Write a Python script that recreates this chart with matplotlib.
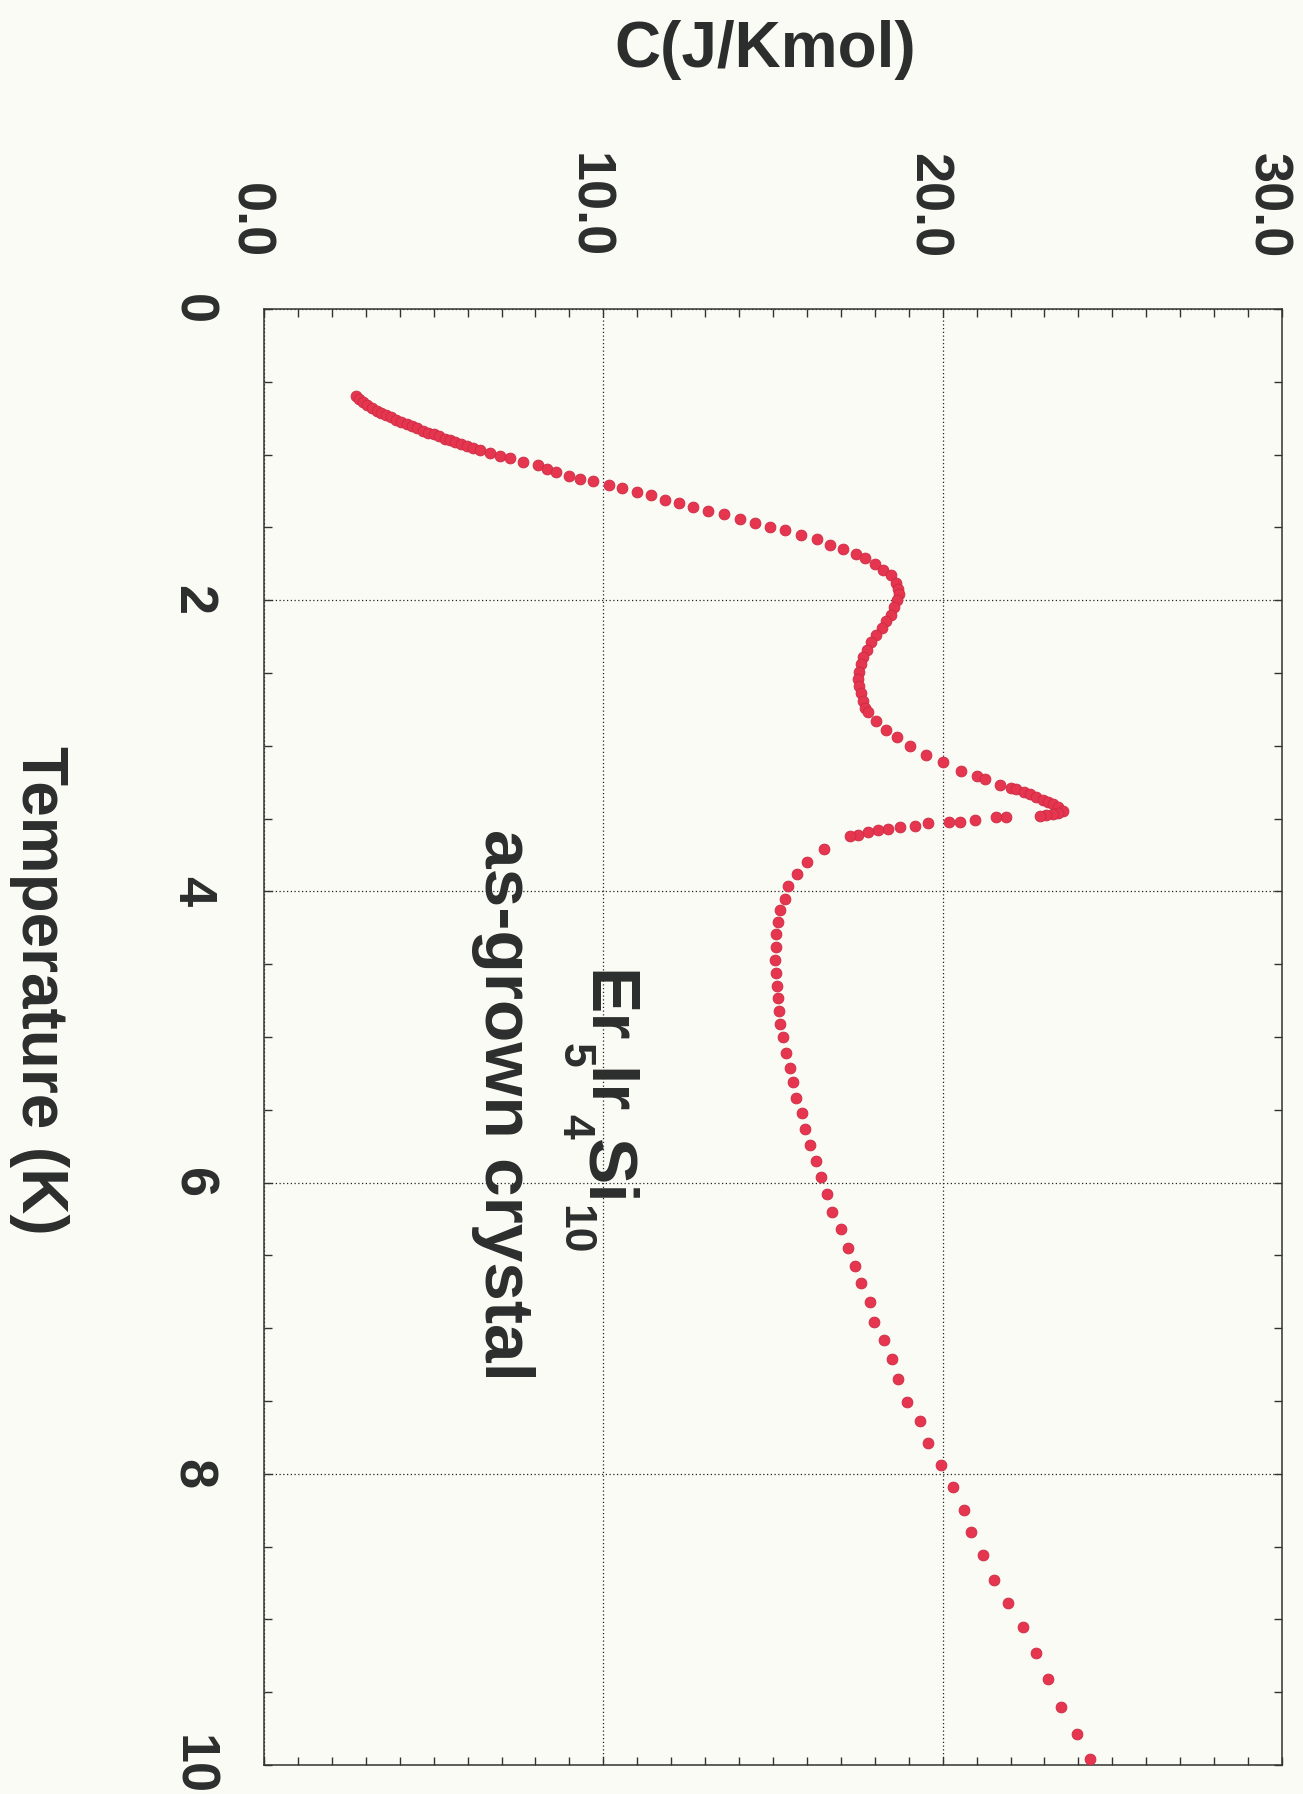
import matplotlib
matplotlib.use("Agg")
import matplotlib.pyplot as plt
import matplotlib.transforms as mtransforms
from matplotlib.ticker import MultipleLocator

plt.rcParams["font.family"] = ["Liberation Sans", "DejaVu Sans"]

# Er5Ir4Si10 as-grown crystal: specific heat vs temperature
temperature = [
    0.60, 0.62, 0.64, 0.66, 0.68, 0.70, 0.715, 0.73, 0.745, 0.76,
    0.775, 0.79, 0.805, 0.82, 0.835, 0.85, 0.86, 0.875, 0.89, 0.90,
    0.915, 0.93, 0.94, 0.955, 0.97, 0.99, 1.01, 1.02, 1.05, 1.07,
    1.10, 1.12, 1.15, 1.17, 1.18, 1.21, 1.23, 1.26, 1.28, 1.31,
    1.33, 1.36, 1.39, 1.41, 1.44, 1.47, 1.50, 1.52, 1.55, 1.58,
    1.62, 1.65, 1.68, 1.71, 1.75, 1.79, 1.83, 1.88, 1.92, 1.96,
    2.00, 2.05, 2.10, 2.14, 2.19, 2.24, 2.29, 2.34, 2.39, 2.44,
    2.49, 2.54, 2.59, 2.64, 2.69, 2.74, 2.77, 2.83, 2.89, 2.94,
    3.00, 3.06, 3.11, 3.17, 3.21, 3.23, 3.27, 3.29, 3.30, 3.32,
    3.33, 3.35, 3.37, 3.385, 3.40, 3.42, 3.45, 3.46, 3.47, 3.475,
    3.48, 3.49, 3.49, 3.51, 3.52, 3.52, 3.53, 3.55, 3.56, 3.57,
    3.58, 3.59, 3.61, 3.62, 3.71, 3.80, 3.88, 3.96, 4.05, 4.13,
    4.21, 4.29, 4.38, 4.47, 4.56, 4.65, 4.73, 4.82, 4.91, 5.00,
    5.11, 5.21, 5.31, 5.42, 5.52, 5.63, 5.74, 5.85, 5.96, 6.08,
    6.20, 6.32, 6.45, 6.57, 6.69, 6.82, 6.96, 7.08, 7.21, 7.35,
    7.51, 7.64, 7.79, 7.94, 8.09, 8.25, 8.40, 8.56, 8.73, 8.89,
    9.05, 9.23, 9.41, 9.60, 9.79, 9.96,
]
heat_capacity = [
    2.70, 2.80, 2.92, 3.05, 3.18, 3.32, 3.46, 3.60, 3.75, 3.90,
    4.05, 4.20, 4.36, 4.52, 4.68, 4.84, 5.00, 5.16, 5.32, 5.48,
    5.64, 5.80, 5.97, 6.15, 6.36, 6.66, 6.95, 7.25, 7.64, 8.08,
    8.33, 8.60, 8.99, 9.31, 9.70, 10.17, 10.54, 11.00, 11.39, 11.81,
    12.23, 12.65, 13.09, 13.55, 14.04, 14.46, 14.90, 15.36, 15.82, 16.30,
    16.69, 17.06, 17.44, 17.70, 18.00, 18.24, 18.49, 18.63, 18.68, 18.70,
    18.66, 18.58, 18.48, 18.34, 18.20, 18.05, 17.90, 17.78, 17.66, 17.58,
    17.52, 17.50, 17.53, 17.58, 17.64, 17.72, 17.80, 18.05, 18.34, 18.64,
    19.03, 19.52, 20.01, 20.55, 21.00, 21.24, 21.68, 22.00, 22.17, 22.40,
    22.56, 22.75, 22.95, 23.10, 23.25, 23.40, 23.54, 23.40, 23.25, 23.05,
    22.86, 21.88, 21.58, 20.94, 20.50, 20.20, 19.57, 19.17, 18.73, 18.39,
    18.09, 17.80, 17.51, 17.26, 16.50, 16.00, 15.71, 15.45, 15.35, 15.22,
    15.15, 15.10, 15.08, 15.07, 15.09, 15.11, 15.14, 15.17, 15.22, 15.30,
    15.39, 15.49, 15.59, 15.69, 15.86, 15.93, 16.10, 16.28, 16.42, 16.59,
    16.75, 16.99, 17.21, 17.41, 17.60, 17.85, 17.97, 18.26, 18.52, 18.68,
    18.95, 19.32, 19.56, 19.96, 20.30, 20.62, 20.84, 21.18, 21.52, 21.94,
    22.38, 22.75, 23.11, 23.50, 23.97, 24.34,
]

cap_ticks = [0, 10, 20, 30]
cap_labels = ["0.0", "10.0", "20.0", "30.0"]
temp_ticks = [0, 2, 4, 6, 8, 10]
temp_labels = ["0", "2", "4", "6", "8", "10"]

# formula pieces: (text, is_subscript)
formula = [("Er", False), ("5", True), ("Ir", False), ("4", True),
           ("Si", False), ("10", True)]

BG = "#fbfbf5"
INK = "#2b2e2c"
DOT = "#e6354e"

fig = plt.figure(figsize=(13.03, 17.94), dpi=100, facecolor=BG)
ax = fig.add_axes([264 / 1303, 1 - 1765 / 1794, 1018 / 1303, 1456 / 1794])
ax.set_facecolor(BG)

ax.plot(heat_capacity, temperature, "o", ms=7.8, mfc=DOT, mec="#cc2b44",
        mew=0.6, zorder=3)

ax.set_xlim(0, 30)
ax.set_ylim(10, 0)
ax.set_xticks(cap_ticks)
ax.set_yticks(temp_ticks)
ax.xaxis.set_minor_locator(MultipleLocator(1))
ax.yaxis.set_minor_locator(MultipleLocator(0.5))
ax.tick_params(which="both", direction="in", length=6, width=1.0,
               color="#333333", top=True, bottom=True, left=True, right=True,
               labelbottom=False, labelleft=False)
ax.grid(True, which="major", color="#222222", linestyle=(0, (1, 2)), lw=0.9)
for s in ax.spines.values():
    s.set_color("#333333")
    s.set_linewidth(1.1)

# tick labels are drawn rotated, reading downwards
px = 1 / 100
tr_top = ax.get_xaxis_transform() + mtransforms.ScaledTranslation(
    -29 * px, 51 * px, fig.dpi_scale_trans)
for v, lab in zip(cap_ticks, cap_labels):
    ax.text(v, 1, lab, transform=tr_top, rotation=-90, rotation_mode="anchor",
            ha="right", va="baseline", fontsize=39, fontweight="bold",
            color=INK, clip_on=False)

tr_left = ax.get_yaxis_transform() + mtransforms.ScaledTranslation(
    -86 * px, 0, fig.dpi_scale_trans)
for v, lab in zip(temp_ticks, temp_labels):
    ax.text(0, v, lab, transform=tr_left, rotation=-90, rotation_mode="anchor",
            ha="center", va="baseline", fontsize=39, fontweight="bold",
            color=INK, clip_on=False)

fig.text(765 / 1303, 1 - 67 / 1794, "C(J/Kmol)", ha="center", va="baseline",
         fontsize=46, fontweight="bold", color=INK)
fig.text(22 / 1303, 1 - 990 / 1794, "Temperature (K)", rotation=-90,
         rotation_mode="anchor", ha="center", va="baseline", fontsize=46,
         fontweight="bold", color=INK)

# chemical formula, built piece by piece so the subscripts sit low
base_c = 9.54
prev = ax.text(base_c, 4.54, formula[0][0], rotation=-90,
               rotation_mode="anchor", ha="left", va="baseline",
               fontsize=50, fontweight="bold", color=INK)
for txt, sub in formula[1:]:
    prev = ax.annotate(
        txt, xy=(base_c, 0), xycoords=("data", prev),
        xytext=(-18 if sub else 0, 0), textcoords="offset points",
        rotation=-90, rotation_mode="anchor", ha="left", va="baseline",
        fontsize=32 if sub else 50, fontweight="bold", color=INK)

ax.text(6.51, 5.47, "as-grown crystal", rotation=-90, rotation_mode="anchor",
        ha="center", va="baseline", fontsize=50, fontweight="bold", color=INK)

fig.savefig("out.png", dpi=100, facecolor=BG)
